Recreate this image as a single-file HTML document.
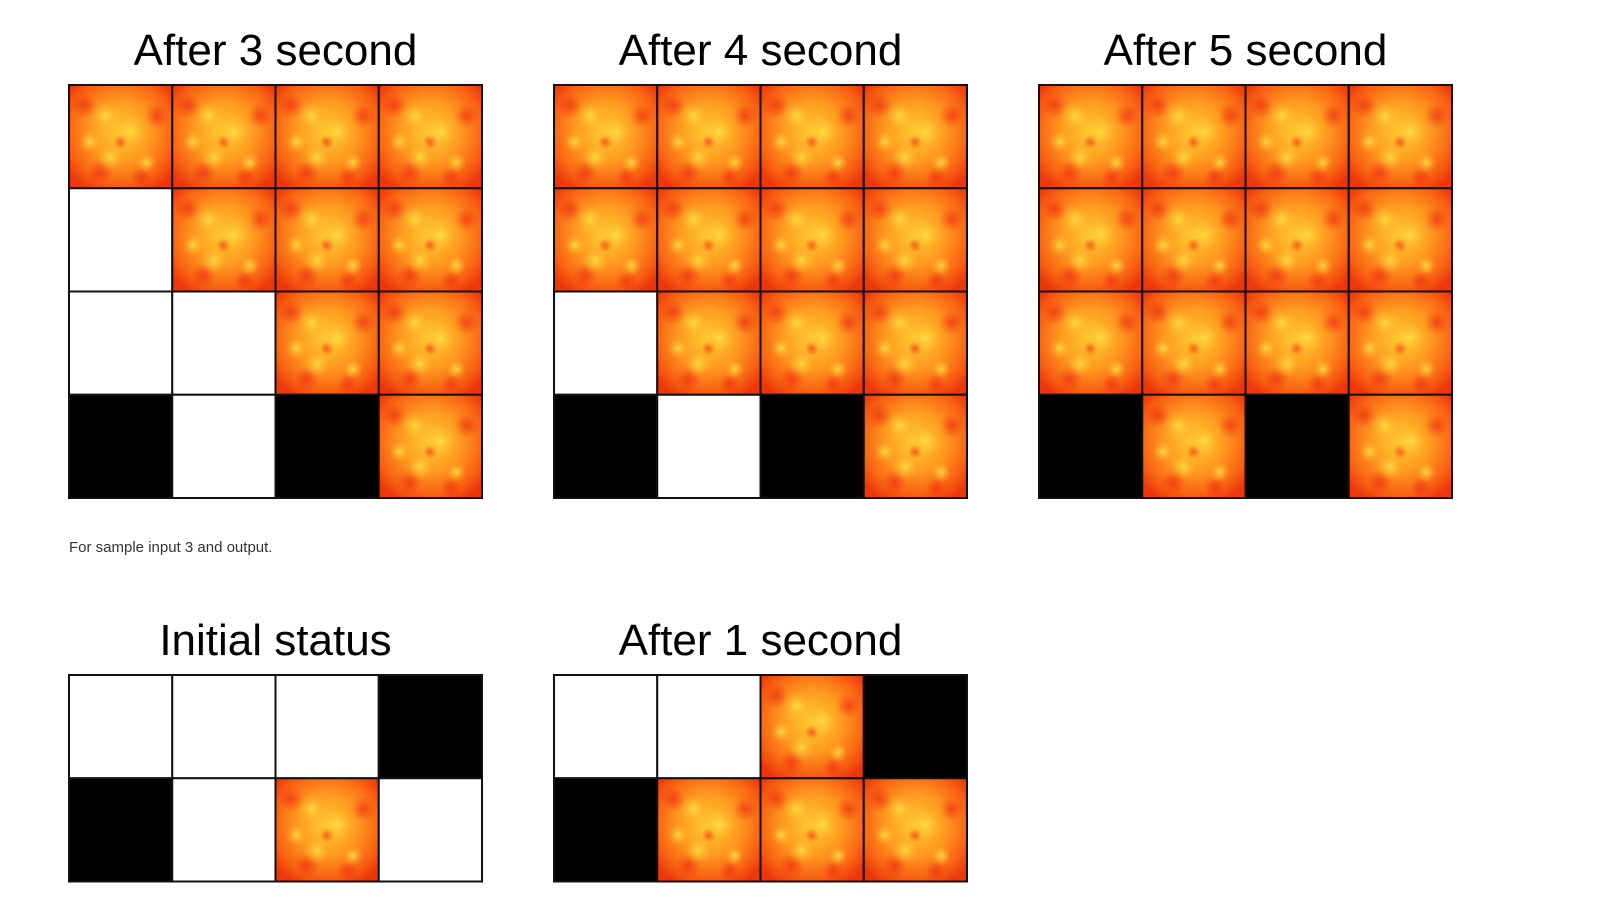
<!DOCTYPE html>
<html><head><meta charset="utf-8">
<style>
html,body{margin:0;padding:0;background:#fff;width:1616px;height:909px;overflow:hidden;font-family:"Liberation Sans",sans-serif}
svg{position:absolute;left:0;top:0}
</style></head>
<body>
<svg id="s" width="1616" height="909">
<defs>
<radialGradient id="fg" cx="50%" cy="45%" r="65%">
<stop offset="0" stop-color="#ffcc30"/>
<stop offset="0.45" stop-color="#ff9a20"/>
<stop offset="0.8" stop-color="#f86012"/>
<stop offset="1" stop-color="#ec360c"/>
</radialGradient>
<radialGradient id="blob" cx="50%" cy="50%" r="50%">
<stop offset="0" stop-color="#ffe040" stop-opacity="0.9"/>
<stop offset="1" stop-color="#ffb030" stop-opacity="0"/>
</radialGradient>
<radialGradient id="red" cx="50%" cy="50%" r="50%">
<stop offset="0" stop-color="#ee3010" stop-opacity="0.7"/>
<stop offset="1" stop-color="#ee3010" stop-opacity="0"/>
</radialGradient>
</defs>
<text x="69" y="552" font-size="15" fill="#333">For sample input 3 and output.</text>
</svg>
<script>
const titles = ["After 3 second","After 4 second","After 5 second","Initial status","After 1 second"];
const grids = [
 ["FFFF","WFFF","WWFF","BWBF"],
 ["FFFF","FFFF","WFFF","BWBF"],
 ["FFFF","FFFF","FFFF","BFBF"],
 ["WWWB","BWFW"],
 ["WWFB","BFFF"]
];
const lefts=[69,554,1039,69,554];
const tops=[85,85,85,675,675];
const titleY=[65,65,65,655,655];
const C=103.25;
const svg=document.getElementById('s');
const NS='http://www.w3.org/2000/svg';
function mk(t,a){const e=document.createElementNS(NS,t);for(const k in a)e.setAttribute(k,a[k]);return e;}
grids.forEach((g,gi)=>{
  const grp=mk('g',{});
  
  
  const x0=lefts[gi],y0=tops[gi];
  const t=mk('text',{x:x0+C*2,y:titleY[gi],'text-anchor':'middle','font-size':'44',fill:'#000'});
  
  
  t.textContent=titles[gi];
  grp.appendChild(t);
  g.forEach((row,r)=>{
    [...row].forEach((v,c)=>{
      const x=x0+c*C,y=y0+r*C;
      const cell=mk('g',{});
      
      
      if(v==='F'){
        cell.appendChild(mk('rect',{x:x,y:y,width:C,height:C,fill:'url(#fg)'}));
        [[0.15,0.2,0.12],[0.85,0.3,0.12],[0.3,0.85,0.12],[0.7,0.9,0.1],[0.5,0.55,0.07]].forEach(b=>{
          cell.appendChild(mk('circle',{cx:x+b[0]*C,cy:y+b[1]*C,r:b[2]*C,fill:'url(#red)'}));
        });
        [[0.35,0.3,0.14],[0.6,0.45,0.16],[0.4,0.7,0.13],[0.75,0.75,0.1],[0.2,0.55,0.1]].forEach(b=>{
          cell.appendChild(mk('circle',{cx:x+b[0]*C,cy:y+b[1]*C,r:b[2]*C,fill:'url(#blob)'}));
        });
      } else {
        cell.appendChild(mk('rect',{x:x,y:y,width:C,height:C,fill:v==='B'?'#000':'#fff'}));
      }
      cell.appendChild(mk('rect',{x:x,y:y,width:C,height:C,fill:'none',stroke:'#111','stroke-width':'2'}));
      grp.appendChild(cell);
    });
  });
  svg.appendChild(grp);
});
</script>
</body></html>
